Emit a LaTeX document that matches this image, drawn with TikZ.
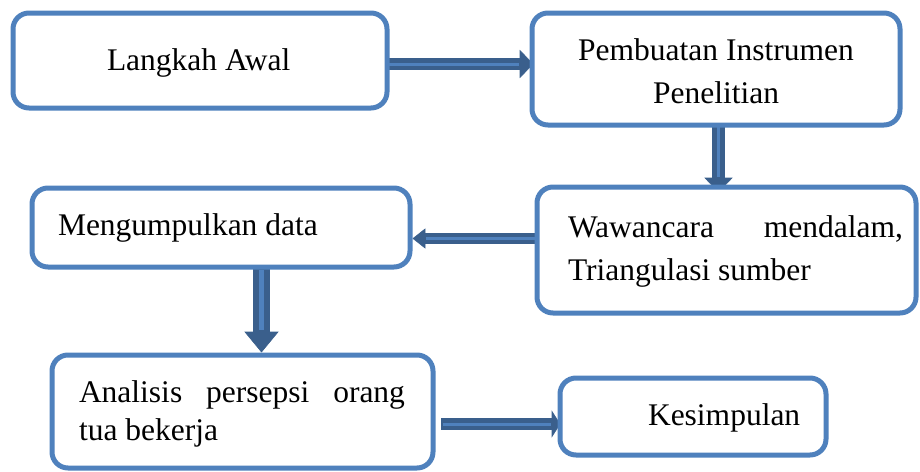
\documentclass[tikz,border=0pt]{standalone}
\usepackage{fontspec}
\setmainfont{Liberation Serif}
\usetikzlibrary{backgrounds,calc}
\definecolor{boxblue}{RGB}{79,129,189}
\definecolor{arrdark}{RGB}{58,95,140}
\begin{document}
\begin{tikzpicture}[x=1pt,y=-1pt,
  box/.style={draw=boxblue, line width=5pt, rounded corners=16pt, fill=white, rectangle, inner sep=0pt, outer sep=0pt},
  txt/.style={inner sep=0pt, outer sep=0pt, font=\fontsize{31.5pt}{38pt}\selectfont},
  shaft/.style={draw=arrdark, line width=#1},
  core/.style={draw=boxblue, line width=#1},
  head/.style={fill=arrdark, draw=arrdark, line width=0.6pt, line join=miter}]
\useasboundingbox (0,0) rectangle (920,471);
% boxes
\node[box, minimum width=374pt, minimum height=95pt]  (b1) at (200,60.5) {};
\node[box, minimum width=368pt, minimum height=112pt] (b2) at (716,69) {};
\node[box, minimum width=379pt, minimum height=126pt] (b3) at (726.5,250) {};
\node[box, minimum width=378pt, minimum height=79pt]  (b4) at (221,227.5) {};
\node[box, minimum width=381pt, minimum height=113pt] (b5) at (242.5,411.5) {};
\node[box, minimum width=266pt, minimum height=77pt]  (b6) at (693,416.5) {};
% texts
\node[txt, anchor=base west] (t1) at (107,70) {Langkah Awal};
\node[txt, anchor=base] (t2a) at (716,60) {Pembuatan Instrumen};
\node[txt, anchor=base] (t2b) at (716,103) {Penelitian};
\node[txt, anchor=base west] (t3a) at (568,237) {\hbox to 335pt{Wawancara\hfill mendalam,}};
\node[txt, anchor=base west] (t3b) at (568,280) {Triangulasi sumber};
\node[txt, anchor=base west] (t4) at (58,235) {Mengumpulkan data};
\node[txt, anchor=base west] (t5a) at (79,402) {\hbox to 326pt{Analisis\hfill persepsi\hfill orang}};
\node[txt, anchor=base west] (t5b) at (79,440) {tua bekerja};
\node[txt, anchor=base west] (t6) at (648,425) {Kesimpulan};
% arrow end points, taken from the boxes
\coordinate (a1s) at ($(b1.east|-{(0,64)})+(-4,0)$);
\coordinate (a1t) at ($(b2.west|-{(0,64)})+(1,0)$);
\coordinate (a2s) at ({(718.5,0)}|-b2.south);
\coordinate (a2t) at ($({(718.5,0)}|-b3.north)+(0,5)$);
\coordinate (a3s) at (b3.west|-{(0,238.5)});
\coordinate (a3t) at ($(b4.east|-{(0,238.5)})+(3,0)$);
\coordinate (a4s) at ({(261.5,0)}|-b4.south);
\coordinate (a4t) at ($({(261.5,0)}|-b5.north)+(0,-3)$);
\coordinate (a5s) at ($(b5.east|-{(0,424)})+(8,0)$);
\coordinate (a5t) at ($(b6.west|-{(0,424)})+(0,0)$);
\begin{scope}[on background layer]
  % b1 -> b2
  \draw[shaft=12pt] (a1s) -- ($(a1t)+(-13,0)$);
  \draw[head] (a1t) -- ++(-13,-13.5) -- ++(0,27) -- cycle;
  \draw[core=3pt] ($(a1s)+(2,0)$) -- ($(a1t)+(-14,0)$);
  % b2 -> b3
  \draw[shaft=13pt] (a2s) -- ($(a2t)+(0,-14)$);
  \draw[head] (a2t) -- ++(-13.5,-14) -- ++(27,0) -- cycle;
  \draw[core=3pt] (a2s) -- ($(a2t)+(0,-15)$);
  % b3 -> b4
  \draw[shaft=11pt] (a3s) -- ($(a3t)+(12,0)$);
  \draw[head] (a3t) -- ++(12,-9.5) -- ++(0,19) -- cycle;
  \draw[core=3pt] ($(a3s)+(-2,0)$) -- ($(a3t)+(13,0)$);
  % b4 -> b5
  \draw[shaft=17pt] (a4s) -- ($(a4t)+(0,-20)$);
  \draw[head] (a4t) -- ++(-16.5,-20) -- ++(33,0) -- cycle;
  \draw[core=5pt] ($(a4s)+(0,3)$) -- ($(a4t)+(0,-22)$);
  % b5 -> b6
  \draw[shaft=12pt] (a5s) -- ($(a5t)+(-8,0)$);
  \draw[head] (a5t) -- ++(-8,-12.5) -- ++(0,25) -- cycle;
  \draw[core=3pt] ($(a5s)+(2,0)$) -- ($(a5t)+(-9,0)$);
\end{scope}
\end{tikzpicture}
\end{document}
